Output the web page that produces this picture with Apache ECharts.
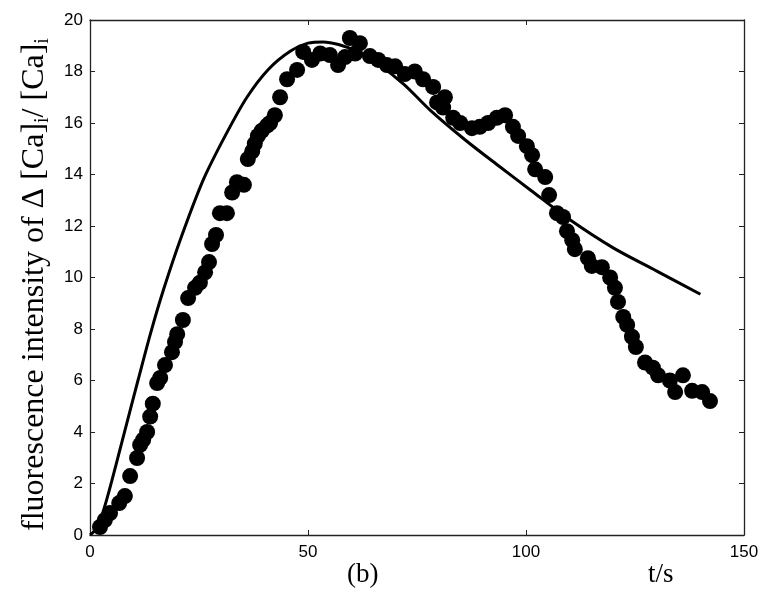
<!DOCTYPE html>
<html>
<head>
<meta charset="utf-8">
<script src="https://cdn.jsdelivr.net/npm/echarts@6/dist/echarts.min.js"></script>
<style>html,body{margin:0;padding:0;background:#fff}#c{width:769px;height:601px}</style>
</head>
<body>
<div id="c"></div>
<script>
// Measured data points (t in s, fluorescence ratio)
const dotT = [2.3,3.4,4.6,6.7,8.0,9.2,10.8,11.5,12.2,13.1,13.8,14.4,15.4,16.1,17.2,18.8,19.5,20.0,21.3,22.5,24.1,25.2,26.4,27.3,28.0,28.9,29.8,31.4,32.6,33.7,35.3,36.2,37.2,37.8,38.5,39.4,40.6,41.3,42.4,43.6,45.2,47.5,48.9,50.9,52.8,55.0,56.9,58.5,59.6,60.8,61.9,64.2,66.1,68.1,70.0,72.2,74.5,76.4,78.7,79.6,81.0,81.4,83.3,84.9,87.6,89.4,91.3,93.3,95.2,97.0,98.2,100.2,101.4,102.1,104.4,105.3,107.1,108.5,109.4,110.6,111.2,114.2,115.1,117.4,119.3,120.4,121.1,122.3,123.2,124.3,125.2,127.3,129.1,130.3,133.0,134.2,136.0,138.1,140.4,142.2];
const dotV = [0.31,0.58,0.85,1.24,1.51,2.29,2.99,3.5,3.7,4.0,4.6,5.1,5.9,6.1,6.6,7.1,7.5,7.8,8.35,9.2,9.6,9.8,10.2,10.6,11.3,11.65,12.5,12.5,13.3,13.7,13.6,14.6,14.9,15.2,15.5,15.7,15.9,16.0,16.3,17.0,17.7,18.06,18.76,18.45,18.7,18.64,18.25,18.56,19.3,18.7,19.1,18.6,18.45,18.25,18.2,17.9,18.0,17.7,17.4,16.8,16.6,17.0,16.2,16.0,15.8,15.85,16.0,16.2,16.3,15.85,15.5,15.1,14.75,14.2,13.9,13.2,12.5,12.35,11.8,11.45,11.1,10.75,10.45,10.4,10.0,9.6,9.05,8.47,8.16,7.7,7.3,6.7,6.5,6.2,6.0,5.55,6.2,5.6,5.55,5.2];
// Model curve
const curveT = [0,1.5,3,5,7,9,11,14,17,21,26,31,36,41,46,50,53.5,57,61,66,72,78,86,94,101,110,120,130,140];
const curveV = [0,0.25,0.9,2.1,3.4,4.7,6.0,7.9,9.6,11.6,13.8,15.5,17.0,18.1,18.8,19.1,19.15,19.05,18.8,18.3,17.5,16.5,15.35,14.3,13.4,12.25,11.15,10.25,9.35];
const xTicks = [0,50,100,150];
const yTicks = [0,2,4,6,8,10,12,14,16,18,20];

const dots = dotT.map((t,i)=>[t,dotV[i]]);
const curve = curveT.map((t,i)=>[t,curveV[i]]);

const sans = '"Liberation Sans", Arial, sans-serif';
const serif = '"Liberation Serif", "Times New Roman", serif';
const axisLine = {show:true, onZero:false, lineStyle:{color:'#222', width:1.3}};
const tick = {show:true, inside:true, length:5, lineStyle:{color:'#222', width:1}};

const chart = echarts.init(document.getElementById('c'), null, {renderer:'canvas'});
chart.setOption({
  animation:false,
  backgroundColor:'#fff',
  grid:{left:90, right:25, top:20, bottom:66},
  xAxis:[
    {type:'value', min:xTicks[0], max:xTicks[xTicks.length-1], interval:50,
     axisLine:axisLine, axisTick:tick, splitLine:{show:false},
     axisLabel:{color:'#000', fontFamily:sans, fontSize:17, margin:9}},
    {type:'value', position:'top', min:0, max:150, interval:50,
     axisLine:axisLine, axisTick:tick, axisLabel:{show:false}, splitLine:{show:false}}
  ],
  yAxis:[
    {type:'value', min:yTicks[0], max:yTicks[yTicks.length-1], interval:2,
     axisLine:axisLine, axisTick:tick, splitLine:{show:false},
     axisLabel:{color:'#000', fontFamily:sans, fontSize:17, margin:7},
     name:'{m|fluorescence intensity of Δ [Ca]}{s|i}{m|/ [Ca]}{s|i}',
     nameLocation:'middle', nameGap:30,
     nameTextStyle:{padding:[0,14,0,0], rich:{
       m:{fontFamily:serif, fontSize:32, color:'#000', lineHeight:38},
       s:{fontFamily:serif, fontSize:20, color:'#000', verticalAlign:'bottom'}
     }}},
    {type:'value', position:'right', min:0, max:20, interval:2,
     axisLine:axisLine, axisTick:tick, axisLabel:{show:false}, splitLine:{show:false}}
  ],
  graphic:[
    {type:'text', left:347, top:561, style:{text:'(b)', font:'27px '+serif, fill:'#000'}},
    {type:'text', left:648, top:561, style:{text:'t/s', font:'27px '+serif, fill:'#000'}}
  ],
  series:[
    {type:'scatter', data:dots, symbol:'circle', symbolSize:16,
     itemStyle:{color:'#000', opacity:1}, z:3},
    {type:'line', data:curve, smooth:0.3, showSymbol:false, symbol:'none',
     lineStyle:{color:'#000', width:3}, z:4}
  ]
});
</script>
</body>
</html>
